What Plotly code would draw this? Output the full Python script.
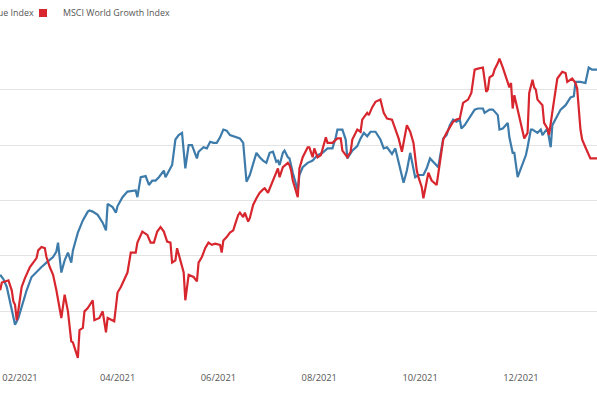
import plotly.graph_objects as go

# MSCI World Value Index (rebased)
value_dates = [
    "2021-01-20", "2021-01-22", "2021-01-24", "2021-01-27", "2021-01-29", "2021-01-31",
    "2021-02-02", "2021-02-05", "2021-02-08", "2021-02-11", "2021-02-14", "2021-02-17",
    "2021-02-21", "2021-02-23", "2021-02-24", "2021-02-26", "2021-02-28", "2021-03-02",
    "2021-03-04", "2021-03-05", "2021-03-08", "2021-03-11", "2021-03-14", "2021-03-15",
    "2021-03-17", "2021-03-20", "2021-03-21", "2021-03-23", "2021-03-25", "2021-03-26",
    "2021-03-29", "2021-03-31", "2021-04-01", "2021-04-04", "2021-04-07", "2021-04-12",
    "2021-04-13", "2021-04-15", "2021-04-18", "2021-04-20", "2021-04-22", "2021-04-24",
    "2021-04-26", "2021-04-29", "2021-04-30", "2021-05-02", "2021-05-04", "2021-05-06",
    "2021-05-08", "2021-05-10", "2021-05-12", "2021-05-14", "2021-05-16", "2021-05-19",
    "2021-05-20", "2021-05-23", "2021-05-25", "2021-05-27", "2021-05-29", "2021-05-31",
    "2021-06-02", "2021-06-04", "2021-06-06", "2021-06-08", "2021-06-10", "2021-06-12",
    "2021-06-14", "2021-06-16", "2021-06-17", "2021-06-18", "2021-06-20", "2021-06-22",
    "2021-06-24", "2021-06-26", "2021-06-28", "2021-06-30", "2021-07-02", "2021-07-04",
    "2021-07-06", "2021-07-07", "2021-07-08", "2021-07-10", "2021-07-11", "2021-07-13",
    "2021-07-14", "2021-07-16", "2021-07-19", "2021-07-20", "2021-07-22", "2021-07-25",
    "2021-07-28", "2021-07-31", "2021-08-03", "2021-08-06", "2021-08-09", "2021-08-11",
    "2021-08-12", "2021-08-15", "2021-08-17", "2021-08-18", "2021-08-21", "2021-08-24",
    "2021-08-26", "2021-08-28", "2021-08-30", "2021-09-01", "2021-09-04", "2021-09-07",
    "2021-09-09", "2021-09-11", "2021-09-14", "2021-09-16", "2021-09-19", "2021-09-21",
    "2021-09-23", "2021-09-25", "2021-09-28", "2021-09-30", "2021-10-03", "2021-10-05",
    "2021-10-07", "2021-10-09", "2021-10-12", "2021-10-13", "2021-10-15", "2021-10-17",
    "2021-10-19", "2021-10-21", "2021-10-23", "2021-10-25", "2021-10-26", "2021-10-28",
    "2021-10-30", "2021-11-01", "2021-11-03", "2021-11-05", "2021-11-08", "2021-11-09",
    "2021-11-12", "2021-11-14", "2021-11-17", "2021-11-18", "2021-11-20", "2021-11-23",
    "2021-11-24", "2021-11-26", "2021-11-27", "2021-11-29", "2021-12-02", "2021-12-04",
    "2021-12-05", "2021-12-07", "2021-12-08", "2021-12-11", "2021-12-13", "2021-12-14",
    "2021-12-17", "2021-12-19", "2021-12-20", "2021-12-23", "2021-12-25", "2021-12-28",
    "2021-12-31", "2022-01-02", "2022-01-03", "2022-01-06", "2022-01-09", "2022-01-11",
    "2022-01-13", "2022-01-16",
]
value_index = [
    98.3, 97.9, 97.2, 95.1, 93.8, 94.4,
    95.4, 96.9, 98.1, 98.6, 99.0, 99.4,
    99.9, 100.4, 101.2, 98.5, 99.6, 100.3,
    99.4, 100.5, 102.1, 103.2, 104.0, 104.1,
    104.0, 103.7, 103.5, 103.0, 102.3, 104.7,
    104.4, 103.9, 104.5, 105.3, 105.8, 105.9,
    105.3, 107.1, 107.2, 106.4, 106.8, 106.8,
    107.1, 107.7, 107.1, 107.7, 108.2, 110.5,
    110.9, 111.1, 107.9, 110.0, 110.0, 108.8,
    109.4, 109.8, 109.7, 110.3, 110.2, 110.2,
    110.7, 111.4, 111.3, 110.9, 110.8, 110.7,
    110.6, 110.2, 108.0, 106.7, 107.3, 108.4,
    109.3, 108.9, 108.6, 108.4, 109.3, 109.4,
    108.5, 108.6, 108.2, 109.3, 109.5, 108.9,
    108.8, 107.5, 105.9, 107.3, 108.0, 108.4,
    108.6, 109.1, 109.3, 109.7, 109.7, 110.7,
    111.4, 111.4, 110.5, 108.8, 109.5, 109.9,
    110.6, 111.1, 110.8, 111.2, 111.2, 110.5,
    109.7, 109.8, 109.2, 109.7, 107.7, 106.6,
    107.7, 109.3, 107.1, 107.3, 107.3, 107.9,
    108.8, 108.5, 108.0, 108.9, 110.6, 110.9,
    111.8, 112.3, 112.1, 112.3, 111.5, 111.8,
    112.3, 112.7, 113.2, 113.3, 113.3, 112.9,
    113.2, 113.2, 112.7, 111.4, 111.5, 112.0,
    110.7, 109.3, 109.3, 107.1, 108.4, 109.1,
    109.8, 111.4, 111.4, 111.1, 111.4, 110.9,
    111.5, 109.8, 111.8, 112.7, 113.2, 113.6,
    114.3, 114.4, 115.7, 115.7, 115.6, 117.0,
    116.8, 116.8,
]

# MSCI World Growth Index (rebased)
growth_dates = [
    "2021-01-20", "2021-01-21", "2021-01-23", "2021-01-25", "2021-01-27", "2021-01-28",
    "2021-01-29", "2021-01-30", "2021-01-31", "2021-02-02", "2021-02-04", "2021-02-07",
    "2021-02-09", "2021-02-11", "2021-02-12", "2021-02-14", "2021-02-16", "2021-02-17",
    "2021-02-19", "2021-02-21", "2021-02-23", "2021-02-26", "2021-02-28", "2021-03-02",
    "2021-03-04", "2021-03-05", "2021-03-08", "2021-03-09", "2021-03-11", "2021-03-12",
    "2021-03-14", "2021-03-17", "2021-03-18", "2021-03-21", "2021-03-23", "2021-03-25",
    "2021-03-26", "2021-03-30", "2021-04-01", "2021-04-03", "2021-04-07", "2021-04-09",
    "2021-04-12", "2021-04-13", "2021-04-16", "2021-04-19", "2021-04-21", "2021-04-23",
    "2021-04-25", "2021-04-27", "2021-04-29", "2021-05-01", "2021-05-03", "2021-05-04",
    "2021-05-06", "2021-05-07", "2021-05-09", "2021-05-11", "2021-05-12", "2021-05-14",
    "2021-05-17", "2021-05-19", "2021-05-20", "2021-05-22", "2021-05-24", "2021-05-26",
    "2021-05-28", "2021-05-30", "2021-06-02", "2021-06-03", "2021-06-04", "2021-06-06",
    "2021-06-08", "2021-06-10", "2021-06-11", "2021-06-13", "2021-06-14", "2021-06-16",
    "2021-06-17", "2021-06-19", "2021-06-20", "2021-06-22", "2021-06-24", "2021-06-26",
    "2021-06-28", "2021-06-29", "2021-07-01", "2021-07-04", "2021-07-05", "2021-07-07",
    "2021-07-08", "2021-07-10", "2021-07-13", "2021-07-14", "2021-07-15", "2021-07-16",
    "2021-07-19", "2021-07-20", "2021-07-22", "2021-07-25", "2021-07-26", "2021-07-28",
    "2021-07-29", "2021-07-31", "2021-08-02", "2021-08-03", "2021-08-05", "2021-08-06",
    "2021-08-09", "2021-08-12", "2021-08-14", "2021-08-15", "2021-08-18", "2021-08-20",
    "2021-08-21", "2021-08-24", "2021-08-26", "2021-08-27", "2021-08-30", "2021-08-31",
    "2021-09-02", "2021-09-04", "2021-09-07", "2021-09-09", "2021-09-11", "2021-09-14",
    "2021-09-16", "2021-09-18", "2021-09-20", "2021-09-23", "2021-09-25", "2021-09-27",
    "2021-09-29", "2021-09-30", "2021-10-02", "2021-10-03", "2021-10-06", "2021-10-08",
    "2021-10-11", "2021-10-13", "2021-10-15", "2021-10-17", "2021-10-19", "2021-10-21",
    "2021-10-23", "2021-10-25", "2021-10-27", "2021-10-30", "2021-11-01", "2021-11-03",
    "2021-11-05", "2021-11-08", "2021-11-09", "2021-11-10", "2021-11-11", "2021-11-12",
    "2021-11-14", "2021-11-15", "2021-11-17", "2021-11-18", "2021-11-20", "2021-11-23",
    "2021-11-24", "2021-11-25", "2021-11-26", "2021-11-27", "2021-11-29", "2021-12-01",
    "2021-12-02", "2021-12-03", "2021-12-05", "2021-12-06", "2021-12-08", "2021-12-09",
    "2021-12-10", "2021-12-11", "2021-12-14", "2021-12-15", "2021-12-17", "2021-12-18",
    "2021-12-20", "2021-12-22", "2021-12-23", "2021-12-26", "2021-12-28", "2021-12-29",
    "2022-01-01", "2022-01-03", "2022-01-04", "2022-01-06", "2022-01-07", "2022-01-09",
    "2022-01-10", "2022-01-12", "2022-01-16",
]
growth_index = [
    96.9, 97.6, 97.7, 97.8, 96.9, 95.9,
    95.6, 94.2, 95.1, 97.2, 98.0, 99.0,
    99.4, 99.8, 100.5, 100.8, 100.7, 99.9,
    99.0, 98.3, 96.9, 94.4, 96.5, 95.0,
    92.3, 92.2, 90.8, 93.3, 93.5, 95.0,
    95.3, 96.0, 94.2, 94.4, 95.0, 93.1,
    94.4, 94.1, 96.7, 97.2, 98.5, 100.3,
    100.3, 101.2, 102.2, 101.9, 101.2, 101.2,
    102.2, 102.6, 102.2, 101.3, 101.2, 99.4,
    99.6, 100.7, 99.6, 98.5, 96.0, 98.3,
    98.1, 97.7, 99.4, 99.9, 100.7, 101.2,
    101.0, 101.1, 101.0, 100.3, 101.4, 101.7,
    102.1, 102.3, 102.8, 103.7, 103.9, 103.5,
    103.9, 103.1, 103.4, 104.6, 105.2, 105.7,
    106.0, 106.1, 105.7, 106.8, 107.0, 107.9,
    107.1, 108.0, 108.4, 108.2, 107.7, 106.8,
    105.3, 107.9, 108.9, 109.8, 109.8, 108.9,
    109.7, 108.9, 109.1, 109.7, 110.7, 110.2,
    110.2, 110.6, 110.6, 109.5, 108.9, 109.4,
    110.5, 111.4, 111.2, 112.3, 112.9, 112.7,
    113.4, 113.9, 114.1, 112.9, 112.4, 112.3,
    111.4, 110.6, 109.4, 111.8, 111.2, 110.2,
    107.7, 107.1, 106.2, 105.2, 107.5, 106.8,
    106.4, 108.6, 110.5, 111.1, 111.6, 112.1,
    112.3, 112.4, 113.8, 114.1, 114.7, 116.8,
    116.9, 117.0, 115.9, 114.8, 115.0, 116.1,
    116.3, 116.8, 117.4, 117.8, 117.0, 115.7,
    115.2, 115.6, 113.3, 114.5, 113.2, 112.1,
    111.5, 110.6, 111.1, 114.7, 115.9, 115.2,
    115.0, 114.1, 113.6, 112.0, 111.5, 110.9,
    113.0, 114.8, 116.0, 116.6, 116.5, 115.7,
    116.0, 115.6, 115.1, 111.4, 110.5, 109.8,
    109.5, 108.8, 108.8,
]

series_names = ["MSCI World Value Index", "MSCI World Growth Index"]
series_colors = ["#3d7bab", "#d7262e"]
legend_ids = ["legend", "legend2"]

fig = go.Figure()
fig.add_trace(go.Scatter(x=value_dates, y=value_index, mode="lines",
                         line=dict(color=series_colors[0], width=2.2),
                         name=series_names[0], showlegend=False))
fig.add_trace(go.Scatter(x=growth_dates, y=growth_index, mode="lines",
                         line=dict(color=series_colors[1], width=2.2),
                         name=series_names[1], showlegend=False))
# legend entries with square swatches
for name, col, lg in zip(series_names, series_colors, legend_ids):
    fig.add_trace(go.Scatter(x=[None], y=[None], mode="markers",
                             marker=dict(symbol="square", size=8, color=col),
                             name=name, showlegend=True, legend=lg))

legend_style = dict(orientation="h", xanchor="left", yref="container",
                    y=1 - 13 / 398, yanchor="middle",
                    font=dict(size=8.9, color="#555555"), bgcolor="rgba(0,0,0,0)")

fig.update_layout(
    width=597, height=398,
    margin=dict(l=0, r=0, t=34, b=31, autoexpand=False),
    paper_bgcolor="white", plot_bgcolor="white",
    font=dict(family="Open Sans", size=9.3, color="#666666"),
    legend=dict(x=-105 / 597, **legend_style),
    legend2=dict(x=23 / 597, **legend_style),
    xaxis=dict(type="date", range=["2021-01-19 21:36", "2022-01-16 00:00"],
               tick0="2021-02-01", dtick="M2", tickformat="%m/%Y",
               showgrid=False, zeroline=False, showline=False, ticks="",
               ticklabelstandoff=4, ticklabeloverflow="allow",
               tickfont=dict(size=9.3, color="#555555")),
    yaxis=dict(range=[89.98, 120.02], tick0=90, dtick=5, showticklabels=False,
               showgrid=True, gridcolor="#e3e3e3", gridwidth=1,
               zeroline=False, showline=False, ticks=""),
)

fig.write_html("out.html",
               config={"displayModeBar": False},
               post_script="document.body.style.margin='0px';document.body.style.overflow='hidden';")
